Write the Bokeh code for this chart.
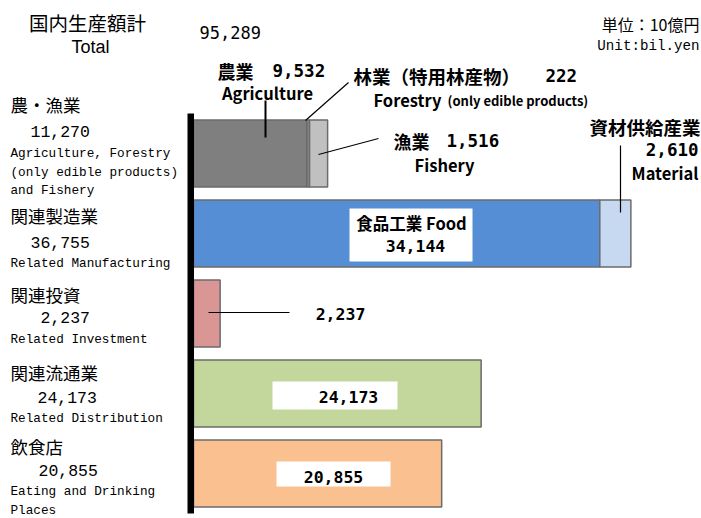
from bokeh.plotting import figure
from bokeh.models import Range1d
from bokeh.core.properties import value
from bokeh.embed import file_html
from bokeh.resources import INLINE

# ---------------- data ----------------
total_label = "95,289"
categories_jp = ["農・漁業", "関連製造業", "関連投資", "関連流通業", "飲食店"]
categories_en = [["Agriculture, Forestry", "(only edible products)", "and Fishery"],
                 ["Related Manufacturing"],
                 ["Related Investment"],
                 ["Related Distribution"],
                 ["Eating and Drinking", "Places"]]
category_totals = [11270, 36755, 2237, 24173, 20855]

# stacked parts per row
row1_parts = [9532, 222, 1516]          # agriculture, forestry, fishery
row2_parts = [34144, 2610]              # food, material
row3_parts = [2237]
row4_parts = [24173]
row5_parts = [20855]
rows_parts = [row1_parts, row2_parts, row3_parts, row4_parts, row5_parts]
rows_colors = [["#7f7f7f", "#8c8c8c", "#c0c0c0"],
               ["#558ed5", "#c6d9f1"],
               ["#d99694"],
               ["#c3d69b"],
               ["#fac090"]]

# ---------------- geometry helpers (px -> data) ----------------
W, H = 701, 518
S = 0.0119        # px per 10-billion-yen unit
X0 = 193          # x pixel of value 0
ROW0, ROWSTEP = 153, 80


def dx(px):
    return (px - X0) / S


def dy(py):
    return (py - ROW0) / ROWSTEP


p = figure(width=W, height=H, output_backend="svg", toolbar_location=None,
           x_range=Range1d(dx(0), dx(W)), y_range=Range1d(dy(H), dy(0)),
           min_border=0)
p.axis.visible = False
p.grid.visible = False
p.outline_line_color = None
p.background_fill_color = "white"

# bars
lefts, rights, ys, cols = [], [], [], []
for i, (parts, colors) in enumerate(zip(rows_parts, rows_colors)):
    acc = 0
    for v, c in zip(parts, colors):
        lefts.append(acc)
        rights.append(acc + v)
        ys.append(i)
        cols.append(c)
        acc += v
p.hbar(y=ys, left=lefts, right=rights, height=0.84, fill_color=cols,
       line_color="#6b6b6b", line_width=1.5)

# black vertical axis bar
p.quad(left=[dx(187)], right=[dx(193.5)], top=[-0.5], bottom=[len(categories_jp) - 0.5],
       fill_color="black", line_color=None)

# white label boxes
box_l = [dx(349), dx(272), dx(276)]
box_r = [dx(472), dx(397), dx(390)]
box_t = [dy(208), dy(381), dy(461)]
box_b = [dy(261), dy(409), dy(486)]
p.quad(left=box_l, right=box_r, top=box_t, bottom=box_b, fill_color="white", line_color=None)

# leader lines
p.segment(x0=[dx(265)], y0=[dy(100)], x1=[dx(265)], y1=[dy(137)], line_color="black", line_width=2)
p.segment(x0=[dx(305), dx(318), dx(620), dx(208)],
          y0=[dy(120), dy(154), dy(145), dy(312)],
          x1=[dx(348), dx(378), dx(620), dx(289)],
          y1=[dy(82), dy(138), dy(212), dy(312)],
          line_color="black", line_width=1.2)

JP = value("Noto Sans CJK JP")
MONO = value("Liberation Mono")
NUM = value("DejaVu Sans Mono")


def txt(x, y, s, size, font=JP, style="normal", align="left", color="black"):
    p.text(x=[dx(x)], y=[dy(y)], text=[s], text_font=font, text_font_size=f"{size}px",
           text_font_style=style, text_align=align, text_baseline="middle", text_color=color)


# header
txt(87, 22, "国内生産額計", 19.5, align="center")
txt(90, 46, "Total", 18, font=value("Liberation Sans"), align="center")
txt(199, 32, total_label, 17, font=NUM)
txt(699, 23, "単位：10億円", 16, align="right")
txt(699, 45, "Unit:bil.yen", 14.2, font=MONO, align="right")

# left category labels
jp_y = [104, 215, 294, 372, 446]
num_x = [30, 30, 40, 37, 38]
num_y = [131, 242, 317, 397, 470]
en_y0 = [153, 263, 339, 418, 491]
for i in range(len(categories_jp)):
    txt(10, jp_y[i], categories_jp[i], 17.5)
    txt(num_x[i], num_y[i], f"{category_totals[i]:,}", 16.5, font=MONO)
    for k, line in enumerate(categories_en[i]):
        txt(10, en_y0[i] + 18.5 * k, line, 12.7, font=MONO)

# bar labels
B = "bold"
txt(217, 70, "農業", 18, style=B)
txt(272, 70, f"{row1_parts[0]:,}", 17.5, font=NUM, style=B)
txt(267, 92, "Agriculture", 16.5, style=B, align="center")
txt(353, 75, "林業（特用林産物）", 18.5, style=B)
txt(545, 75, f"{row1_parts[1]:,}", 17.5, font=NUM, style=B)
txt(373, 99, "Forestry", 16.5, style=B)
txt(447, 100, "(only edible products)", 13, style=B)
txt(393, 140, "漁業", 18, style=B)
txt(446, 140, f"{row1_parts[2]:,}", 17.5, font=NUM, style=B)
txt(444, 164, "Fishery", 16.5, style=B, align="center")
txt(589, 126, "資材供給産業", 18.5, style=B)
txt(698, 149, f"{row2_parts[1]:,}", 17.5, font=NUM, style=B, align="right")
txt(698, 172, "Material", 16.5, style=B, align="right")
txt(411, 222, "食品工業 Food", 16.5, style=B, align="center")
txt(415, 245, f"{row2_parts[0]:,}", 16.5, font=NUM, style=B, align="center")
txt(340, 313, f"{row3_parts[0]:,}", 16.5, font=NUM, style=B, align="center")
txt(348, 396, f"{row4_parts[0]:,}", 16.5, font=NUM, style=B, align="center")
txt(333, 476, f"{row5_parts[0]:,}", 16.5, font=NUM, style=B, align="center")

open("out.html", "w").write(file_html(p, INLINE))
